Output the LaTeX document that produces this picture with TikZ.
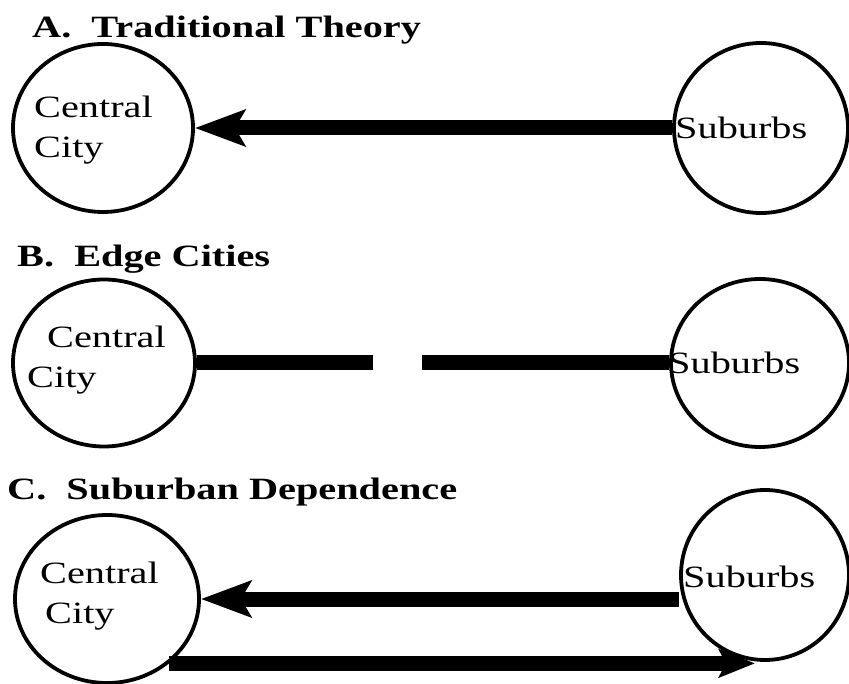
\documentclass[tikz,border=0pt]{standalone}
\usepackage{fontspec}
\setmainfont{Liberation Serif}[FakeStretch=1.3]
\usetikzlibrary{arrows.meta,shapes.geometric}

\def\labelSize{31}
\def\titleSize{31}
\def\flowWidth{15pt}
\def\ringWidth{3.8pt}

\tikzset{
    town/.style = {draw, ellipse, line width = \ringWidth, inner sep = 0pt},
    flow/.style = {line width = \flowWidth},
    flowtip/.style = {-{Stealth[length = 50pt, width = 36pt, inset = 10pt]}},
    smalltip/.style = {-{Stealth[length = 36pt, width = 28pt, inset = 7pt]}},
    place/.style = {inner sep = 0pt, anchor = west, align = left,
        font = \fontsize{\labelSize}{40}\selectfont},
    heading/.style = {inner sep = 0pt, anchor = base west,
        font = \fontsize{\titleSize}{38}\selectfont\bfseries},
}

\begin{document}
\begin{tikzpicture}[x = 1pt, y = -1pt]
            \useasboundingbox (0,0) rectangle (849,684);

            % A. traditional theory
            \node [heading] (titleA) at (32,38) {A.\ \ Traditional Theory};
            \node [town, minimum width = 180pt, minimum height = 168pt]
            (ccA) at (103,128) {};
            \node [town, minimum width = 174pt, minimum height = 170pt]
            (subA) at (761,128) {};
            \node [place] (ccAtext) at ([shift = {(-69,2)}] ccA.center)
            {Central\\City};
            \node [place] (subAtext) at ([shift = {(-86,0)}] subA.center)
            {Suburbs};
            \draw [flow, flowtip]
            (subA) -- (ccA)
            ;

            % B. edge cities
            \node [heading] (titleB) at (17,267) {B.\ \ Edge Cities};
            \node [town, minimum width = 182pt, minimum height = 167pt]
            (ccB) at (104,363) {};
            \node [town, minimum width = 178pt, minimum height = 168pt]
            (subB) at (760,363) {};
            \node [place] (ccBtext) at ([shift = {(-77,-3)}] ccB.center)
            {\hspace{20pt}Central\\City};
            \node [place] (subBtext) at ([shift = {(-92,0)}] subB.center)
            {Suburbs};
            \coordinate (gapL) at (373,363);
            \coordinate (gapR) at (422,363);
            \draw [flow]
            (ccB) -- (gapL)
            (gapR) -- (subB)
            ;

            % C. suburban dependence
            \node [heading] (titleC) at (7,500) {C.\ \ Suburban Dependence};
            \node [town, minimum width = 184pt, minimum height = 168pt]
            (ccC) at (107,599) {};
            \node [town, minimum width = 168pt, minimum height = 170pt]
            (subC) at (765,575) {};
            \node [place] (ccCtext) at ([shift = {(-67,-3)}] ccC.center)
            {Central\\\hspace{5pt}City};
            \node [place] (subCtext) at ([shift = {(-82,2)}] subC.center)
            {Suburbs};
            \draw [flow, flowtip]
            (ccC.east -| subC.west) -- (ccC.east)
            ;
            \draw [flow, smalltip, shorten >= 10pt]
            (ccC.-46) -- (ccC.-46 -| subC.south)
            ;
        \end{tikzpicture}
\end{document}
